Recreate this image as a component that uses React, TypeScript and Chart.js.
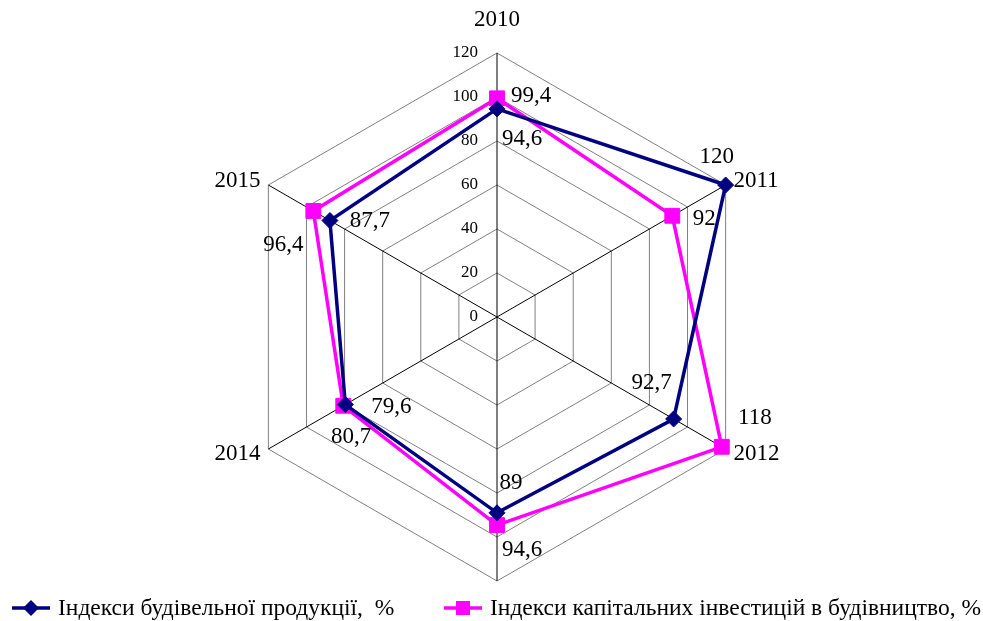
import React, { useEffect, useRef } from "react";
import { Chart, registerables } from "chart.js";

Chart.register(...registerables);

const categories = ["2010", "2011", "2012", "", "2014", "2015"];
const seriesNames = [
  "Індекси будівельної продукції,  %",
  "Індекси капітальних інвестицій в будівництво, %",
];
const productionIndex = [94.6, 120, 92.7, 89, 79.6, 87.7];
const investmentIndex = [99.4, 92, 118, 94.6, 80.7, 96.4];
const valueLabels1 = ["94,6", "120", "92,7", "89", "79,6", "87,7"];
const valueLabels2 = ["99,4", "92", "118", "94,6", "80,7", "96,4"];
const tickValues = [0, 20, 40, 60, 80, 100, 120];

const NAVY = "#000080";
const MAGENTA = "#FF00FF";
const FONT = '"Liberation Serif", "Times New Roman", serif';

// label offsets (style) relative to each point
const labelOffsets1 = [[25, 30], [-9, -28], [-22, -36], [14, -30], [46, 2], [40, 0]];
const labelOffsets2 = [[34, -2], [32, 3], [33, -29], [25, 25], [8, 31], [-30, 34]];

const overlayPlugin = {
  id: "overlay",
  afterDatasetsDraw(chart: any) {
    const ctx = chart.ctx;
    const scale = chart.scales.r;
    ctx.save();
    // tick labels
    ctx.fillStyle = "#000";
    ctx.font = `17px ${FONT}`;
    ctx.textAlign = "right";
    ctx.textBaseline = "middle";
    tickValues.forEach((v) => {
      const p = scale.getPointPositionForValue(0, v);
      ctx.fillText(String(v), p.x - 19, p.y);
    });
    // category labels
    ctx.font = `23px ${FONT}`;
    const r = scale.drawingArea;
    categories.forEach((c, i) => {
      if (!c) return;
      let p;
      if (i === 0) {
        p = scale.getPointPosition(i, r + 33);
        ctx.textAlign = "center";
      } else {
        p = scale.getPointPosition(i, r + 9);
        ctx.textAlign = i < 3 ? "left" : "right";
      }
      ctx.fillText(c, p.x, p.y);
    });
    // value labels
    ctx.textAlign = "center";
    const sets = [
      [valueLabels1, labelOffsets1],
      [valueLabels2, labelOffsets2],
    ];
    sets.forEach(([labels, offs]: any, di) => {
      const meta = chart.getDatasetMeta(di);
      meta.data.forEach((el: any, i: number) => {
        ctx.fillText(labels[i], el.x + offs[i][0], el.y + offs[i][1]);
      });
    });
    // legend
    const ly = 608;
    const items = [
      { x: 12, color: NAVY, style: "diamond", text: seriesNames[0] },
      { x: 444, color: MAGENTA, style: "square", text: seriesNames[1] },
    ];
    ctx.font = `23.5px ${FONT}`;
    ctx.textAlign = "left";
    items.forEach((it) => {
      ctx.strokeStyle = it.color;
      ctx.fillStyle = it.color;
      ctx.lineWidth = 3.5;
      ctx.beginPath();
      ctx.moveTo(it.x, ly);
      ctx.lineTo(it.x + 38, ly);
      ctx.stroke();
      const cx = it.x + 19;
      ctx.beginPath();
      if (it.style === "diamond") {
        ctx.moveTo(cx, ly - 8);
        ctx.lineTo(cx + 8, ly);
        ctx.lineTo(cx, ly + 8);
        ctx.lineTo(cx - 8, ly);
        ctx.closePath();
        ctx.fill();
      } else {
        ctx.fillRect(cx - 7, ly - 7, 14, 14);
      }
      ctx.fillStyle = "#000";
      ctx.fillText(it.text, it.x + 46, ly + 1);
    });
    ctx.restore();
  },
};

export default function App() {
  const ref = useRef<HTMLCanvasElement | null>(null);
  useEffect(() => {
    if (!ref.current) return;
    const chart = new Chart(ref.current, {
      type: "radar",
      data: {
        labels: categories,
        datasets: [
          {
            label: seriesNames[0],
            data: productionIndex,
            borderColor: NAVY,
            backgroundColor: NAVY,
            borderWidth: 3.5,
            fill: false,
            pointStyle: "rectRot",
            pointRadius: 8,
            pointBorderWidth: 1,
            pointBackgroundColor: NAVY,
            pointBorderColor: NAVY,
          },
          {
            label: seriesNames[1],
            data: investmentIndex,
            borderColor: MAGENTA,
            backgroundColor: MAGENTA,
            borderWidth: 3.5,
            fill: false,
            pointStyle: "rect",
            pointRadius: 10.5,
            pointBorderWidth: 1,
            pointBackgroundColor: MAGENTA,
            pointBorderColor: MAGENTA,
          },
        ],
      },
      options: {
        responsive: false,
        maintainAspectRatio: false,
        animation: false,
        layout: { padding: { left: 233, right: 222, top: 53, bottom: 40 } },
        plugins: {
          legend: { display: false },
          tooltip: { enabled: false },
        },
        scales: {
          r: {
            min: 0,
            max: 120,
            ticks: { stepSize: 20, display: false },
            grid: { color: "#808080", lineWidth: 1 },
            angleLines: { color: "#000", lineWidth: 1 },
            pointLabels: { display: false },
          },
        },
      },
      plugins: [overlayPlugin],
    });
    return () => chart.destroy();
  }, []);
  return (
    <div style={{ position: "fixed", left: 0, top: 0, width: 983, height: 621, background: "#fff" }}>
      <canvas ref={ref} width={983} height={621} style={{ width: 983, height: 621 }} />
    </div>
  );
}
